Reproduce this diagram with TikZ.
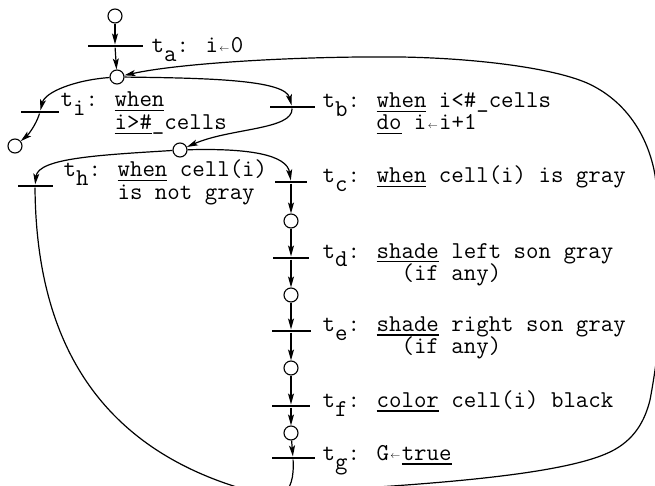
\documentclass[tikz,border=0pt]{standalone}
\usepackage{fontspec}
\usepackage{graphicx}
\usetikzlibrary{arrows.meta}
\newcommand{\tsb}[1]{\raisebox{-9pt}{#1}}
\newcommand{\ulw}[1]{\setbox0\hbox{#1}\rlap{\rule[-4.5pt]{\wd0}{1.1pt}}\box0\relax}
\newcommand{\lftar}{\makebox[12.7pt]{\raisebox{1.5pt}{\resizebox{10pt}{!}{$\leftarrow$}}}}
\begin{document}
\begin{tikzpicture}[x=1pt,y=-1pt,line width=1.2pt,
  place/.style={circle,draw,minimum size=14pt,inner sep=0pt,line width=1.1pt,fill=white},
  tbar/.style={fill=black,inner sep=0pt,minimum height=1.9pt,minimum width=#1},
  lab/.style={font=\ttfamily\fontsize{24.2}{22}\selectfont,inner sep=0pt,anchor=base west},
  arr/.style={-{Stealth[length=11pt,width=6pt,inset=2.5pt]}},
  arc/.style={line width=1.2pt}]
\useasboundingbox (0,0) rectangle (655,486);
\clip (0,0) rectangle (655,486);
% places
\node[place] (p0) at (115,16) {};
\node[place] (p1) at (117,77) {};
\node[place] (pe) at (15,146) {};
\node[place] (p2) at (180,150) {};
\node[place] (p3) at (291,221) {};
\node[place] (p4) at (291,295) {};
\node[place] (p5) at (291,368) {};
\node[place] (p6) at (291,433) {};
% transitions
\node[tbar=55pt] (ta) at (115,46) {};
\node[tbar=38pt] (ti) at (40,112) {};
\node[tbar=45pt] (tb) at (292,107) {};
\node[tbar=35pt] (th) at (35,186) {};
\node[tbar=32pt] (tc) at (291,182) {};
\node[tbar=36pt] (td) at (291,258) {};
\node[tbar=39pt] (te) at (291,331) {};
\node[tbar=38pt] (tf) at (291,406) {};
\node[tbar=43pt] (tg) at (293,458) {};
% arcs
\draw[arc,arr] (p0) -- (ta);
\draw[arc,arr] (ta) -- (p1);
\draw[arc,arr] (p1) .. controls (75,80) and (45,92) .. (ti);
\draw[arc,arr] (ti) .. controls (36,125) and (28,135) .. (pe);
\draw[arc,arr] (p1) .. controls (210,78) and (285,80) .. (tb);
\draw[arc,arr] (tb) .. controls (293,130) and (230,128) .. (p2);
\draw[arc,arr] (p2) .. controls (100,155) and (38,158) .. (th);
\draw[arc,arr] (p2) .. controls (250,148) and (287,155) .. (tc);
\draw[arc,arr] (tc) -- (p3);
\draw[arc,arr] (p3) -- (td);
\draw[arc,arr] (td) -- (p4);
\draw[arc,arr] (p4) -- (te);
\draw[arc,arr] (te) -- (p5);
\draw[arc,arr] (p5) -- (tf);
\draw[arc,arr] (tf) -- (p6);
\draw[arc,arr] (p6) -- (tg);
\coordinate (j1) at (270,496);
\coordinate (j2) at (282,496);
\coordinate (j3) at (295,492);
\draw[arc] (th) .. controls (36,330) and (90,455) .. (j1);
\draw[arc] (tg) .. controls (294,478) and (291,488) .. (j2);
\draw[arc,arr] (j3) .. controls (420,485) and (560,476) .. (610,452)
  .. controls (635,440) and (645,420) .. (650,400)
  .. controls (665,320) and (665,250) .. (655,175)
  .. controls (648,135) and (625,100) .. (587,83)
  .. controls (550,67) and (470,58) .. (400,57)
  .. controls (300,56) and (180,63) .. (p1);
% labels
\node[lab] (la) at (151,53) {t\tsb{a}: i\lftar0};
\node[lab] (li1) at (60,107) {t\tsb{i}: \ulw{when}};
\node[lab] (li2) at (60,130) {\phantom{t\tsb{i}: }\ulw{i>\#}\_cells};
\node[lab] (lb1) at (322,108) {t\tsb{b}: \ulw{when} i<\#\_cells};
\node[lab] (lb2) at (322,130) {\phantom{t\tsb{b}: }\ulw{do} i\lftar i+1};
\node[lab] (lh1) at (63,177) {t\tsb{h}: \ulw{when} cell(i)};
\node[lab] (lh2) at (63,200) {\phantom{t\tsb{h}: }is not gray};
\node[lab] (lc) at (322,183) {t\tsb{c}: \ulw{when} cell(i) is gray};
\node[lab] (ld1) at (322,258) {t\tsb{d}: \ulw{shade} left son gray};
\node[lab] (ld2) at (322,280) {\phantom{t\tsb{d}: sh}(if any)};
\node[lab] (le1) at (322,331) {t\tsb{e}: \ulw{shade} right son gray};
\node[lab] (le2) at (322,353) {\phantom{t\tsb{e}: sh}(if any)};
\node[lab] (lf) at (322,407) {t\tsb{f}: \ulw{color} cell(i) black};
\node[lab] (lg) at (322,460) {t\tsb{g}: G\lftar\ulw{true}};
\end{tikzpicture}
\end{document}
